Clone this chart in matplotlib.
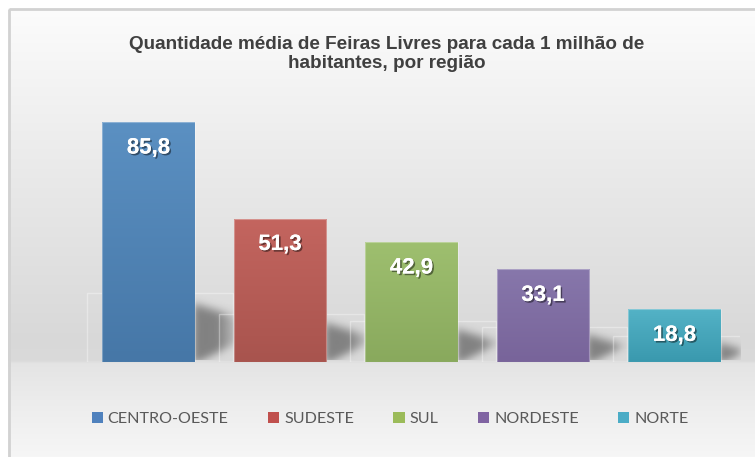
import numpy as np
import matplotlib
matplotlib.use("Agg")
import matplotlib.pyplot as plt
from matplotlib.patches import Rectangle, Patch
import matplotlib.patheffects as pe

# Data
regions = ["CENTRO-OESTE", "SUDESTE", "SUL", "NORDESTE", "NORTE"]
values = [85.8, 51.3, 42.9, 33.1, 18.8]
labels = ["85,8", "51,3", "42,9", "33,1", "18,8"]
title = "Quantidade média de Feiras Livres para cada 1 milhão de\nhabitantes, por região"

# Styling
top_colors = ["#5b90c2", "#c4655f", "#9ebf6f", "#8777ab", "#53b2c6"]
bottom_colors = ["#4677a7", "#a8544e", "#89a95d", "#78649a", "#3a99ae"]
legend_colors = ["#4f81bd", "#c0504d", "#9bbb59", "#8064a2", "#4bacc6"]
frame_depth_px = [69, 48, 41, 35, 26]   # depth of the floor frames behind each bar

W, H = 755, 457
fig = plt.figure(figsize=(W / 100, H / 100), dpi=100)

# ---- background panel with vertical gradient ----
bg = fig.add_axes([0, 0, 1, 1], zorder=-10)
bg.set_xlim(0, W)
bg.set_ylim(H, 0)
bg.axis("off")
stops_y = [8, 150, 250, 340, 361, 364, 400, 457]
stops_c = [0.988, 0.925, 0.885, 0.848, 0.855, 0.895, 0.925, 0.965]
yy = np.arange(8, H + 1)
grey = np.interp(yy, stops_y, stops_c)
grad = np.repeat(grey[:, None], 2, axis=1)
bg.imshow(np.dstack([grad] * 3), extent=(8, W + 5, H, 8), aspect="auto",
          interpolation="bilinear")
bg.add_patch(Rectangle((8.5, 8.5), 800, 500, fill=False, ec="#d2d2d2", lw=2))

# ---- main plot area ----
ax = fig.add_axes([82.75 / W, (H - 362) / H, 657.5 / W, 279.7 / H])
ax.set_xlim(-0.5, 4.5)
ax.set_ylim(0, 100)
ax.axis("off")
ax.patch.set_alpha(0)

x = np.arange(len(values))
bw = 0.707
px_x = 657.5 / 5.0      # pixels per x unit
px_y = 279.7 / 100.0    # pixels per y unit

# soft shadows cast to the right of each bar
nx, ny = 660, 280
gx = np.linspace(-0.5, 4.5, nx)
gy = np.linspace(0, 100, ny)
GX, GY = np.meshgrid(gx, gy)
alpha = np.zeros_like(GX)


def ramp(v):
    v = np.clip(v, 0, 1)
    return v * v * (3 - 2 * v)


for xi, d in zip(x, frame_depth_px):
    xr = xi + bw / 2
    dx = (GX - xr) * px_x
    dy = GY * px_y
    top = 0.92 * d - 0.3 * dx
    bot = 0.5 * (dx - 14)
    a = (ramp((top - dy) / 12.0) * ramp((dy - bot) / 10.0)
         * ramp((52 - dx) / 34.0) * (dx > -2))
    alpha = np.maximum(alpha, 0.62 * a)


def blur(a, s):
    r = int(3 * s)
    k = np.exp(-0.5 * (np.arange(-r, r + 1) / s) ** 2)
    k /= k.sum()
    a = np.apply_along_axis(lambda v: np.convolve(v, k, mode="same"), 1, a)
    a = np.apply_along_axis(lambda v: np.convolve(v, k, mode="same"), 0, a)
    return a


alpha = blur(alpha, 3.5)
alpha[gy < 0.4, :] = 0
shadow = np.zeros((ny, nx, 4))
shadow[..., :3] = 0.3
shadow[..., 3] = alpha
ax.imshow(shadow, extent=(-0.5, 4.5, 0, 100), origin="lower", aspect="auto",
          zorder=1, interpolation="bilinear")

# faint floor frames
for xi, d in zip(x, frame_depth_px):
    left = xi - bw / 2 - 15 / px_x
    right = xi + bw / 2 + 38 / px_x
    ax.add_patch(Rectangle((left, 0), right - left, d / px_y, fill=False,
                           ec=(1, 1, 1, 0.35), lw=1.0, zorder=2))

# bars with vertical gradient
bars = ax.bar(x, values, width=bw, color=legend_colors, zorder=3,
              edgecolor="none")
for b, v, ct, cb in zip(bars, values, top_colors, bottom_colors):
    c1 = np.array(matplotlib.colors.to_rgb(ct))
    c2 = np.array(matplotlib.colors.to_rgb(cb))
    t = np.linspace(0, 1, 64)[:, None]
    img = (c1 * (1 - t) + c2 * t)[:, None, :]
    im = ax.imshow(img, extent=(b.get_x(), b.get_x() + b.get_width(), 0, v),
                   origin="upper", aspect="auto", zorder=4,
                   interpolation="bilinear")
    im.set_clip_path(b)
    ax.add_patch(Rectangle((b.get_x(), 0), b.get_width(), v, fill=False,
                           ec=(1, 1, 1, 0.3), lw=0.8, zorder=5))

# value labels
for xi, v, lab in zip(x, values, labels):
    ax.annotate(lab, xy=(xi, v), xytext=(0, -26 * 0.72),
                textcoords="offset points", ha="center", va="center",
                fontsize=16, fontweight="bold", color="white",
                family="Liberation Sans", zorder=6,
                path_effects=[pe.withSimplePatchShadow(offset=(1.2, -1.2),
                                                       shadow_rgbFace="black",
                                                       alpha=0.45),
                              pe.Normal()])

# title
fig.text(387 / W, 1 - 54 / H, title, ha="center", va="center",
         fontsize=13.6, fontweight="bold", color="#404040",
         family="Liberation Sans", linespacing=1.15)

# legend
handles = [Patch(facecolor=c, edgecolor="none") for c in legend_colors]
leg = fig.legend(handles, regions, loc="center", ncol=5,
                 bbox_to_anchor=(390 / W, 1 - 419 / H), frameon=False,
                 prop={"family": "Lato", "size": 11.6}, handlelength=0.7,
                 handleheight=0.7, handletextpad=0.3, columnspacing=2.45,
                 labelcolor="#595959")

fig.savefig("out.png", dpi=100)
